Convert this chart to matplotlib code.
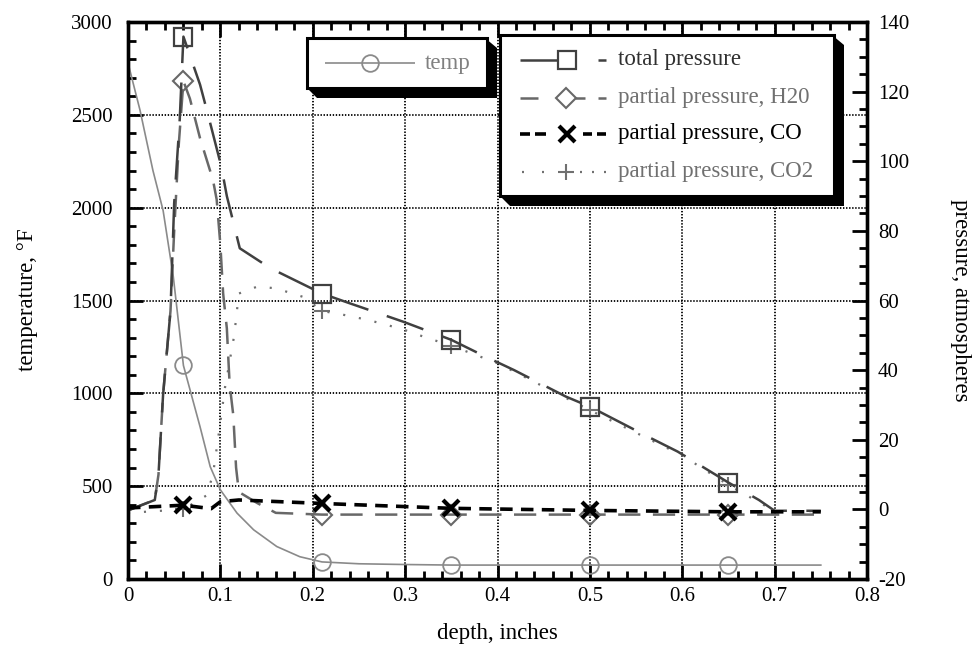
import numpy as np
import matplotlib
matplotlib.use("Agg")
import matplotlib.pyplot as plt
from matplotlib.patches import Polygon, Rectangle
from matplotlib.lines import Line2D
from matplotlib.ticker import MultipleLocator, FormatStrFormatter

plt.rcParams['font.family'] = ['Liberation Serif', 'DejaVu Serif']
plt.rcParams['lines.scale_dashes'] = False
plt.rcParams['axes.unicode_minus'] = False

# depths (inches) where the markers sit
mark_x = [0.06, 0.21, 0.35, 0.5, 0.65]

# temperature, deg F (left axis)
temp_x = [0, 0.013, 0.027, 0.038, 0.049, 0.06, 0.078, 0.089, 0.1, 0.118, 0.136,
          0.161, 0.186, 0.21, 0.25, 0.3, 0.35, 0.4, 0.5, 0.6, 0.65, 0.7, 0.75]
temp_y = [2780, 2525, 2200, 1985, 1630, 1150, 820, 605, 480, 355, 265,
          175, 120, 92, 82, 78, 75, 75, 75, 75, 75, 75, 75]

# pressures, atmospheres (right axis)
total_x = [0, 0.029, 0.033, 0.038, 0.046, 0.05, 0.056, 0.06, 0.078, 0.087, 0.101,
           0.107, 0.121, 0.154, 0.21, 0.24, 0.298, 0.35, 0.386, 0.418, 0.474, 0.5,
           0.562, 0.595, 0.65, 0.683, 0.7, 0.75]
total_y = [-0.3, 2.7, 10, 33, 57, 88, 112, 135.8, 122, 113, 98.5,
           90, 75, 69.3, 62, 59.2, 53.9, 48.7, 44, 40, 32.4, 29.5,
           21, 16.6, 7.7, 2.7, -0.4, -0.4]

h2o_x = [0, 0.02, 0.029, 0.033, 0.038, 0.046, 0.05, 0.055, 0.06, 0.067, 0.078, 0.092,
         0.096, 0.1, 0.103, 0.107, 0.11, 0.114, 0.117, 0.12, 0.14, 0.16, 0.21,
         0.35, 0.5, 0.65, 0.75]
h2o_y = [-0.3, 1.8, 2.7, 10, 33, 57, 80, 105, 123, 118, 106.6, 94.6,
         89, 76, 62, 52, 36, 27, 12, 5, 1.8, -1, -1.5,
         -1.5, -1.5, -1.5, -1.5]

co_x = [0, 0.06, 0.09, 0.1, 0.12, 0.21, 0.35, 0.5, 0.65, 0.75]
co_y = [0.4, 1.2, 0.2, 2.2, 2.7, 1.7, 0.3, -0.3, -0.7, -0.7]

co2_x = [0, 0.06, 0.085, 0.092, 0.1, 0.105, 0.115, 0.12, 0.14, 0.16, 0.19, 0.21,
         0.235, 0.26, 0.28, 0.3, 0.32, 0.35, 0.4, 0.5, 0.6, 0.65, 0.7, 0.75]
co2_y = [-1, 0, 4, 10, 25, 35, 50, 62, 64, 63.5, 61, 57,
         55.8, 54.4, 53, 51.5, 49.6, 47, 42, 28.5, 15.5, 7, -0.5, -0.5]


def marks(xs):
    return [i for i, v in enumerate(xs) if np.any(np.isclose(v, mark_x))]


W, H = 974, 646
fig = plt.figure(figsize=(W / 100, H / 100), dpi=100)
L, R, T, B = 128, 867, 22, 579
ax = fig.add_axes([L / W, 1 - B / H, (R - L) / W, (B - T) / H])
ax2 = ax.twinx()

ax.plot(temp_x, temp_y, color='#8a8a8a', lw=1.2, marker='o', ms=12, mfc='none',
        mec='#8a8a8a', mew=1.3, markevery=marks(temp_x), zorder=3)

ax2.plot(co2_x, co2_y, color='#707070', lw=1.6, dashes=(1.5, 10), marker='+', ms=12,
         mec='#707070', mew=1.5, markevery=marks(co2_x))
ax2.plot(h2o_x, h2o_y, color='#686868', lw=1.8, dashes=(16, 9), marker='D', ms=10,
         mfc='none', mec='#686868', mew=1.5, markevery=marks(h2o_x))
ax2.plot(total_x, total_y, color='#404040', lw=1.8, dashes=(28, 14), marker='s', ms=13,
         mfc='none', mec='#404040', mew=1.6, markevery=marks(total_x))
ax2.plot(co_x, co_y, color='black', lw=2.6, dashes=(9, 6), marker='x', ms=12,
         mec='black', mew=3, markevery=marks(co_x))

ax.set_xlim(0, 0.8)
ax.set_ylim(0, 3000)
ax2.set_ylim(-20, 140)

ax.xaxis.set_major_locator(MultipleLocator(0.1))
ax.xaxis.set_minor_locator(MultipleLocator(0.02))
ax.xaxis.set_major_formatter(FormatStrFormatter('%g'))
ax.yaxis.set_major_locator(MultipleLocator(500))
ax.yaxis.set_minor_locator(MultipleLocator(100))
ax2.yaxis.set_major_locator(MultipleLocator(20))
ax2.yaxis.set_minor_locator(MultipleLocator(5))

ax.grid(True, which='major', color='black', lw=1.3, ls=(0, (1, 1.2)))

ax.tick_params(axis='x', which='both', direction='in', top=True, labelsize=15, pad=6)
ax.tick_params(axis='y', which='both', direction='in', right=False, labelsize=15, pad=11)
ax2.tick_params(axis='y', which='both', direction='in', labelsize=15, pad=8)
for a in (ax, ax2):
    a.tick_params(which='major', length=11, width=2)
    a.tick_params(which='minor', length=6, width=2)
    for s in a.spines.values():
        s.set_linewidth(2.4)

fig.text(0.5 * (L + R) / W, 1 - 633 / H, 'depth, inches', ha='center', va='center', fontsize=16.5)
fig.text(28 / W, 1 - 300 / H, 'temperature, \u00b0F', ha='center', va='center',
         rotation=90, fontsize=16.5)
fig.text(960 / W, 1 - 300 / H, 'pressure, atmospheres', ha='center', va='center',
         rotation=270, fontsize=16.5)

# legend boxes drawn in pixel coordinates on an overlay
ov = fig.add_axes([0, 0, 1, 1], zorder=10)
ov.set_xlim(0, W)
ov.set_ylim(H, 0)
ov.axis('off')
ov.patch.set_alpha(0)


def box(x0, y0, x1, y1, d=10):
    ov.add_patch(Polygon([(x1 - 2, y0), (x1 + d, y0 + d), (x1 + d, y1 + d),
                          (x0 + d, y1 + d), (x0, y1)], closed=True,
                         fc='black', ec='black', lw=0))
    ov.add_patch(Rectangle((x0, y0), x1 - x0, y1 - y0, fc='white', ec='black', lw=2.2))


def seg(xs, y, c, lw):
    ov.add_line(Line2D(xs, [y, y], color=c, lw=lw, solid_capstyle='butt'))


box(307, 38, 487, 88)
seg([325, 415], 63, '#8a8a8a', 1.2)
ov.plot([370], [63], 'o', ms=12, mfc='none', mec='#8a8a8a', mew=1.3)
ov.text(425, 63, 'temp', color='#808080', fontsize=16.5, va='center')

box(500, 35, 834, 196)
# total pressure
seg([520, 558], 60, '#404040', 1.8)
seg([598, 606], 60, '#404040', 1.8)
ov.plot([567], [60], 's', ms=13, mfc='none', mec='#404040', mew=1.6)
ov.text(618, 60, 'total pressure', color='#303030', fontsize=16.5, va='center')
# H2O
seg([520, 538], 98, '#686868', 1.8)
seg([575, 585], 98, '#686868', 1.8)
seg([598, 606], 98, '#686868', 1.8)
ov.plot([566], [98], 'D', ms=10, mfc='none', mec='#686868', mew=1.5)
ov.text(618, 98, 'partial pressure, H20', color='#707070', fontsize=16.5, va='center')
# CO
for a, b in [(520, 530), (535, 546), (583, 592), (597, 606)]:
    seg([a, b], 134, 'black', 2.6)
ov.plot([567], [134], 'x', ms=12, mec='black', mew=3)
ov.text(618, 134, 'partial pressure, CO', color='black', fontsize=16.5, va='center')
# CO2
for a in [522, 542, 580, 592, 604]:
    seg([a, a + 2], 172, '#707070', 1.6)
ov.plot([566], [172], '+', ms=12, mec='#707070', mew=1.5)
ov.text(618, 172, 'partial pressure, CO2', color='#707070', fontsize=16.5, va='center')

fig.savefig('out.png', dpi=100)
